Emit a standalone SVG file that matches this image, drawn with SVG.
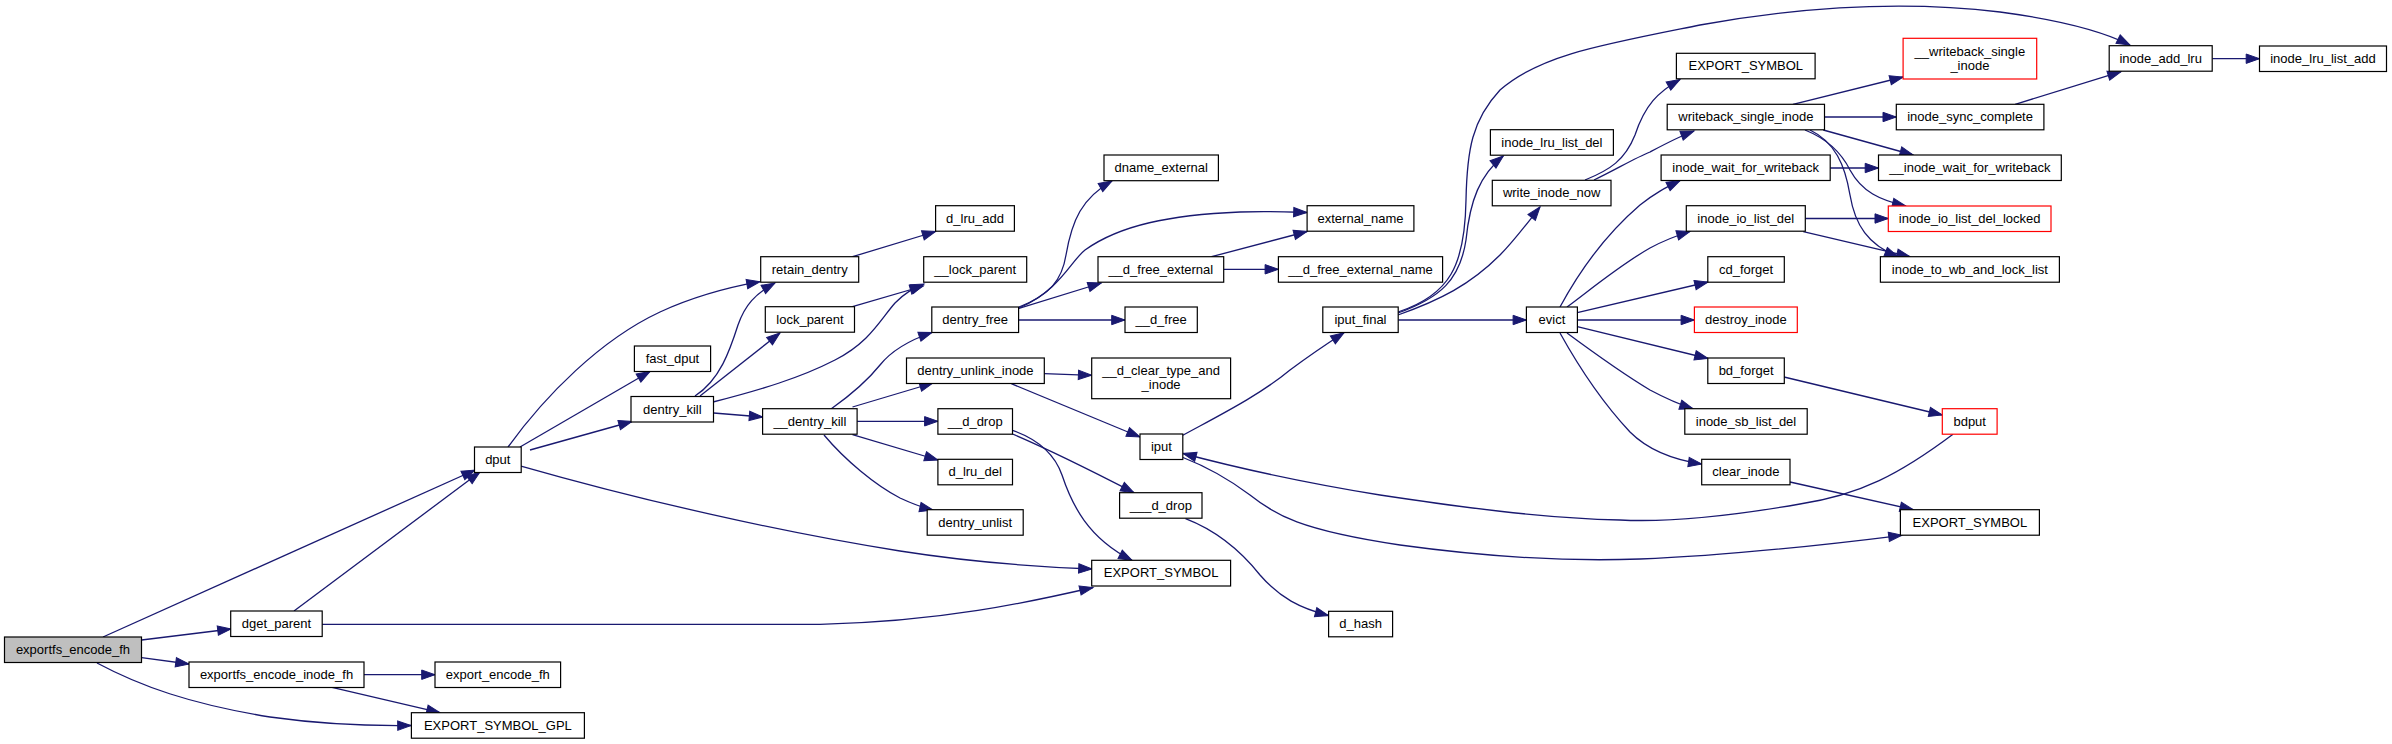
<svg xmlns="http://www.w3.org/2000/svg" width="2392" height="744" viewBox="0 0 2392 744">
<style>
.node rect{fill:#ffffff;stroke:#000000;stroke-width:1.2}
.root rect{fill:#bfbfbf}
.red rect{stroke:#ff0000}
text{font-family:"Liberation Sans",Arial,sans-serif;font-size:13px;text-anchor:middle;fill:#000000}
.edges path{fill:none;stroke:#191970;stroke-width:1.3;marker-end:url(#arr)}
</style>
<defs>
<marker id="arr" markerUnits="userSpaceOnUse" markerWidth="14" markerHeight="10" refX="13.3" refY="4.7" orient="auto" overflow="visible">
<path d="M0,0 L13.3,4.7 L0,9.4 z" fill="#191970" stroke="#191970" stroke-width="1"/>
</marker>
</defs>
<rect x="0" y="0" width="2392" height="744" fill="#ffffff"/>
<g class="edges" id="edges">
<path d="M103,637 L475,470"/>
<path d="M141.6,640 L231,629"/>
<path d="M141.6,657.7 L189,664"/>
<path d="M97,663 C140,686 190,704 270,717 C320,724 370,726 411,725.5"/>
<path d="M294,611 L480,472"/>
<path d="M322,624.3 L820,624.3 C940,622 1030,602 1093,587.5"/>
<path d="M364,674.7 L435,674.7"/>
<path d="M332,687.3 L440,712.7"/>
<path d="M508,447 C545,396 600,340 660,312 C695,296 730,287 760,281.7"/>
<path d="M520,447 L650,371.5"/>
<path d="M530,450 L632,421.5"/>
<path d="M521,466 C640,500 780,532 900,551 C970,562 1040,567 1092,569"/>
<path d="M695,396 C720,380 730,350 738,325 C745,305 755,294 775,283"/>
<path d="M700,396 L780,333"/>
<path d="M713,402 C760,390 800,378 835,360 C870,342 880,320 895,303 C905,293 912,289 924,284"/>
<path d="M852.5,306.7 L923.3,286"/>
<path d="M713.6,413 L762.6,417"/>
<path d="M852.5,256.7 L935.6,231.5"/>
<path d="M831,409 C855,392 868,380 880,365 C892,350 910,340 932,332.5"/>
<path d="M852.5,407 L933,383"/>
<path d="M857.1,421.3 L937.9,421.3"/>
<path d="M852.5,434.7 L937.9,460"/>
<path d="M824,435 C845,460 875,485 900,498 C915,505 924,508 933,510"/>
<path d="M1019,307 C1050,295 1062,280 1066,255 C1072,220 1082,198 1112,181"/>
<path d="M1019,308 C1060,290 1070,262 1085,250 C1120,225 1170,215 1240,212 C1270,211 1290,212 1307,212.5"/>
<path d="M1019,308.3 L1101.3,283"/>
<path d="M1018.6,320 L1125,320"/>
<path d="M1211.5,256.7 L1307.1,231.5"/>
<path d="M1223.7,269.3 L1278.4,269.3"/>
<path d="M1044.3,373.7 L1091.7,375.3"/>
<path d="M1011.3,383.7 L1140,437"/>
<path d="M1012.5,434 C1050,450 1090,470 1134,492.7"/>
<path d="M1012.5,430.3 C1040,440 1055,455 1062,475 C1072,505 1088,538 1132,560.3"/>
<path d="M1185.5,518.7 C1215,530 1240,550 1260,575 C1280,598 1300,608 1328.5,615.5"/>
<path d="M1182.8,435.3 C1220,415 1260,395 1290,370 C1310,355 1328,343 1344,332.7"/>
<path d="M1398,312 C1450,295 1465,265 1466,200 C1467,150 1472,120 1500,90 C1540,55 1600,45 1700,25 C1800,7 1900,0 2000,12 C2060,20 2100,30 2130,45"/>
<path d="M1398,313 C1440,298 1460,280 1466,240 C1470,200 1480,175 1503.3,156"/>
<path d="M1398,315 C1440,300 1470,285 1500,255 C1515,240 1528,222 1540,207"/>
<path d="M1398.2,320 L1526.4,320"/>
<path d="M1585,180 C1610,170 1625,160 1635,135 C1645,105 1658,92 1680,79.5"/>
<path d="M1594,180 C1615,170 1635,158 1650,152 C1665,144 1678,137 1694,131"/>
<path d="M1793,104.3 L1903.1,77"/>
<path d="M1824.5,117 L1896.3,117"/>
<path d="M1823.3,130 L1913.3,155"/>
<path d="M1805,130 C1825,138 1840,150 1850,170 C1862,192 1880,200 1905.7,206"/>
<path d="M1810,130 C1835,142 1845,165 1850,195 C1855,225 1868,245 1898,256.7"/>
<path d="M2015.2,104.3 L2121,71.7"/>
<path d="M2212.3,58.7 L2259.5,58.7"/>
<path d="M1830.2,168 L1878.5,168"/>
<path d="M1805.3,218.5 L1888.3,218.5"/>
<path d="M1803.3,231.7 L1910,256.7"/>
<path d="M1560,307 C1580,270 1605,235 1640,205 C1655,193 1665,188 1680,180.7"/>
<path d="M1567,307 C1590,290 1620,265 1650,248 C1665,240 1675,236 1690,231.5"/>
<path d="M1577.3,312.7 L1708,282"/>
<path d="M1577.3,320 L1694.4,320"/>
<path d="M1577.3,326.7 L1708,358.5"/>
<path d="M1567,333 C1590,350 1620,372 1650,390 C1665,398 1678,404 1693,408.7"/>
<path d="M1560,333 C1575,360 1600,400 1630,432 C1650,452 1675,460 1701.7,464"/>
<path d="M1784,377 L1942.3,415"/>
<path d="M1953,434.3 C1900,474 1860,495 1800,504 C1720,518 1660,522 1620,520 C1540,518 1460,507 1380,495 C1300,482 1230,466 1183,453.5"/>
<path d="M1183,457.5 C1210,468 1230,480 1250,495 C1275,515 1300,530 1400,545 C1480,556 1560,562 1640,559 C1720,556 1800,548 1902,535.3"/>
<path d="M1790,482 L1913.3,509.7"/>
</g>
<g id="n_exportfs_encode_fh" class="node root"><rect x="4.5" y="637" width="137" height="25.5"/><text x="73" y="654">exportfs_encode_fh</text></g>
<g id="n_dget_parent" class="node"><rect x="230.7" y="611" width="91.5" height="25.5"/><text x="276.5" y="628">dget_parent</text></g>
<g id="n_dput" class="node"><rect x="474.5" y="447" width="46.7" height="25.5"/><text x="497.8" y="464">dput</text></g>
<g id="n_exportfs_encode_inode_fh" class="node"><rect x="189" y="662" width="175" height="25.5"/><text x="276.5" y="679">exportfs_encode_inode_fh</text></g>
<g id="n_export_encode_fh" class="node"><rect x="435" y="662" width="125.6" height="25.5"/><text x="497.8" y="679">export_encode_fh</text></g>
<g id="n_EXPORT_SYMBOL_GPL" class="node"><rect x="411.4" y="712.7" width="173" height="25.5"/><text x="497.9" y="729.7">EXPORT_SYMBOL_GPL</text></g>
<g id="n_fast_dput" class="node"><rect x="634.4" y="346" width="76.2" height="25.5"/><text x="672.5" y="363">fast_dput</text></g>
<g id="n_retain_dentry" class="node"><rect x="760.7" y="256.7" width="98" height="25.5"/><text x="809.7" y="273.7">retain_dentry</text></g>
<g id="n_lock_parent" class="node"><rect x="765.3" y="306.7" width="89.2" height="25.5"/><text x="809.9" y="323.7">lock_parent</text></g>
<g id="n_dentry_kill" class="node"><rect x="631" y="396.5" width="82.5" height="25.5"/><text x="672.3" y="413.5">dentry_kill</text></g>
<g id="n_d_lru_add" class="node"><rect x="935.6" y="205.7" width="78.8" height="25.5"/><text x="975" y="222.7">d_lru_add</text></g>
<g id="n___lock_parent" class="node"><rect x="923.7" y="256.7" width="103" height="25.5"/><text x="975.2" y="273.7">__lock_parent</text></g>
<g id="n_dentry_free" class="node"><rect x="931.8" y="307" width="86.8" height="25.5"/><text x="975.2" y="324">dentry_free</text></g>
<g id="n___dentry_kill" class="node"><rect x="762.6" y="408.7" width="94.5" height="25.5"/><text x="809.9" y="425.7">__dentry_kill</text></g>
<g id="n_dentry_unlink_inode" class="node"><rect x="906.5" y="358" width="137.8" height="25.5"/><text x="975.4" y="375">dentry_unlink_inode</text></g>
<g id="n___d_drop" class="node"><rect x="937.9" y="408.7" width="74.6" height="25.5"/><text x="975.2" y="425.7">__d_drop</text></g>
<g id="n_d_lru_del" class="node"><rect x="937.9" y="459.3" width="74.6" height="25.5"/><text x="975.2" y="476.3">d_lru_del</text></g>
<g id="n_dentry_unlist" class="node"><rect x="927.2" y="509.7" width="96" height="25.5"/><text x="975.2" y="526.7">dentry_unlist</text></g>
<g id="n_EXPORT_SYMBOL_1" class="node"><rect x="1091.7" y="560.3" width="138.9" height="25.7"/><text x="1161.1" y="577.4">EXPORT_SYMBOL</text></g>
<g id="n_dname_external" class="node"><rect x="1104" y="155" width="114.4" height="25.7"/><text x="1161.2" y="172.1">dname_external</text></g>
<g id="n_external_name" class="node"><rect x="1307.1" y="205.7" width="106.8" height="25.5"/><text x="1360.5" y="222.7">external_name</text></g>
<g id="n___d_free_external" class="node"><rect x="1098" y="256.7" width="125.7" height="25.5"/><text x="1160.8" y="273.7">__d_free_external</text></g>
<g id="n___d_free" class="node"><rect x="1125" y="307" width="72.3" height="25.5"/><text x="1161.1" y="324">__d_free</text></g>
<g id="n___d_free_external_name" class="node"><rect x="1278.4" y="256.7" width="164.2" height="25.5"/><text x="1360.5" y="273.7">__d_free_external_name</text></g>
<g id="n___d_clear_type_and_inode" class="node"><rect x="1091.7" y="358" width="138.9" height="40.7"/><text x="1161.1" y="375">__d_clear_type_and</text><text x="1161.1" y="389">_inode</text></g>
<g id="n_iput" class="node"><rect x="1140" y="434" width="42.8" height="25.5"/><text x="1161.4" y="451">iput</text></g>
<g id="n____d_drop" class="node"><rect x="1119.6" y="492.7" width="82.4" height="25.5"/><text x="1160.8" y="509.7">___d_drop</text></g>
<g id="n_d_hash" class="node"><rect x="1328.6" y="611.3" width="64" height="25.5"/><text x="1360.6" y="628.3">d_hash</text></g>
<g id="n_iput_final" class="node"><rect x="1322.8" y="307" width="75.4" height="25.5"/><text x="1360.5" y="324">iput_final</text></g>
<g id="n_inode_lru_list_del" class="node"><rect x="1490.4" y="129.7" width="123" height="25.5"/><text x="1551.9" y="146.7">inode_lru_list_del</text></g>
<g id="n_write_inode_now" class="node"><rect x="1492.3" y="180.3" width="118.7" height="25.5"/><text x="1551.7" y="197.3">write_inode_now</text></g>
<g id="n_evict" class="node"><rect x="1526.4" y="307" width="51" height="25.5"/><text x="1551.9" y="324">evict</text></g>
<g id="n_EXPORT_SYMBOL_2" class="node"><rect x="1676.4" y="53.3" width="138.7" height="25.5"/><text x="1745.8" y="70.3">EXPORT_SYMBOL</text></g>
<g id="n_writeback_single_inode" class="node"><rect x="1667.2" y="104.3" width="157.3" height="25.5"/><text x="1745.9" y="121.3">writeback_single_inode</text></g>
<g id="n_inode_wait_for_writeback" class="node"><rect x="1661.1" y="155" width="169.1" height="25.5"/><text x="1745.7" y="172">inode_wait_for_writeback</text></g>
<g id="n_inode_io_list_del" class="node"><rect x="1686.3" y="205.7" width="119" height="25.5"/><text x="1745.8" y="222.7">inode_io_list_del</text></g>
<g id="n_cd_forget" class="node"><rect x="1707.8" y="256.7" width="76.5" height="25.5"/><text x="1746.1" y="273.7">cd_forget</text></g>
<g id="n_destroy_inode" class="node red"><rect x="1694.4" y="307" width="102.9" height="25.5"/><text x="1745.9" y="324">destroy_inode</text></g>
<g id="n_bd_forget" class="node"><rect x="1707.8" y="358" width="76.5" height="25.5"/><text x="1746.1" y="375">bd_forget</text></g>
<g id="n_inode_sb_list_del" class="node"><rect x="1684.8" y="408.7" width="122.4" height="25.5"/><text x="1746" y="425.7">inode_sb_list_del</text></g>
<g id="n_clear_inode" class="node"><rect x="1701.7" y="459.3" width="88.3" height="25.5"/><text x="1745.9" y="476.3">clear_inode</text></g>
<g id="n___writeback_single_inode" class="node red"><rect x="1903.1" y="38.3" width="133.6" height="40.7"/><text x="1969.9" y="55.5">__writeback_single</text><text x="1969.9" y="69.5">_inode</text></g>
<g id="n_inode_add_lru" class="node"><rect x="2109.2" y="45.7" width="103" height="25.5"/><text x="2160.7" y="62.7">inode_add_lru</text></g>
<g id="n_inode_lru_list_add" class="node"><rect x="2259.5" y="46" width="127" height="25.5"/><text x="2323" y="63">inode_lru_list_add</text></g>
<g id="n_inode_sync_complete" class="node"><rect x="1896.3" y="104.3" width="147.6" height="25.5"/><text x="1970.1" y="121.3">inode_sync_complete</text></g>
<g id="n___inode_wait_for_writeback" class="node"><rect x="1878.5" y="155" width="182.8" height="25.5"/><text x="1969.9" y="172">__inode_wait_for_writeback</text></g>
<g id="n_inode_io_list_del_locked" class="node red"><rect x="1888.3" y="206" width="162.7" height="25.5"/><text x="1969.7" y="223">inode_io_list_del_locked</text></g>
<g id="n_inode_to_wb_and_lock_list" class="node"><rect x="1880.4" y="256.7" width="179" height="25.5"/><text x="1969.9" y="273.7">inode_to_wb_and_lock_list</text></g>
<g id="n_bdput" class="node red"><rect x="1942.3" y="408.7" width="54.8" height="25.5"/><text x="1969.7" y="425.7">bdput</text></g>
<g id="n_EXPORT_SYMBOL_3" class="node"><rect x="1900.4" y="509.7" width="139" height="25.5"/><text x="1969.9" y="526.7">EXPORT_SYMBOL</text></g>
</svg>
